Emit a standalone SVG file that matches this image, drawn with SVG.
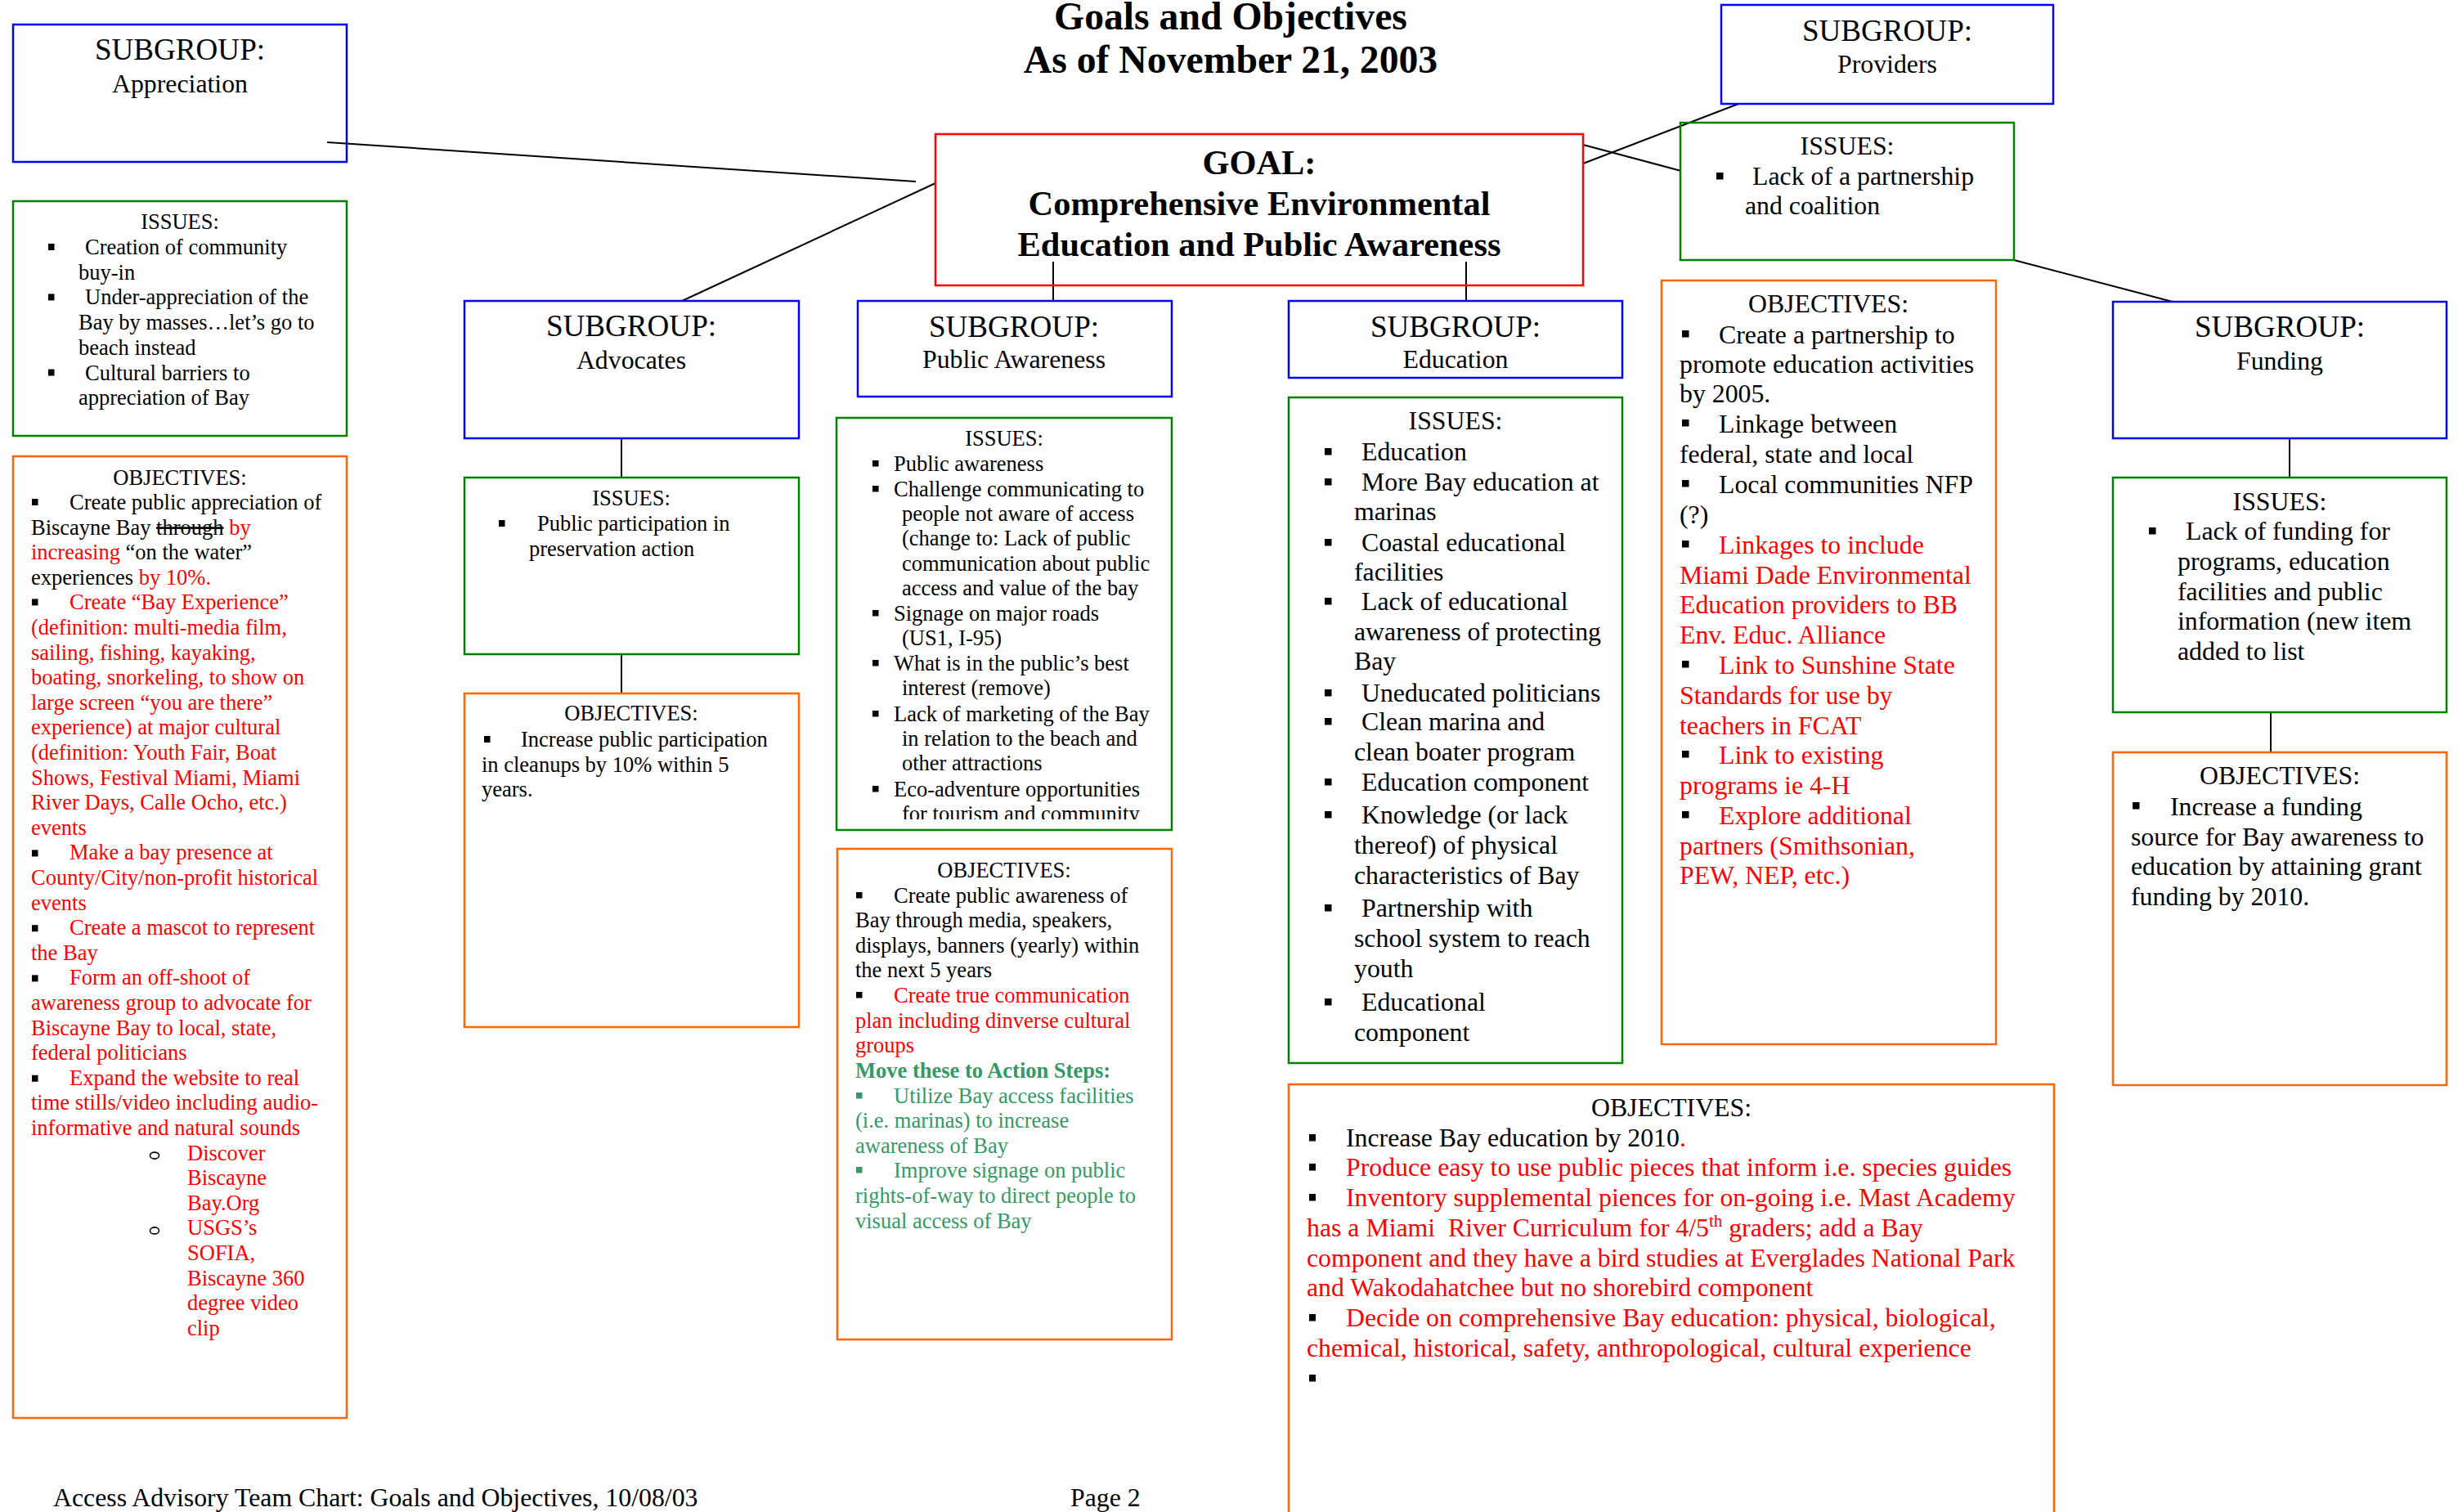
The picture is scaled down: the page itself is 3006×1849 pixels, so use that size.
<svg xmlns="http://www.w3.org/2000/svg" width="3006" height="1849" viewBox="0 0 3006 1849">
<style>
text { font-family: "Liberation Serif", "Times New Roman", serif; fill: #000; }
.t10 { font-size: 26.5px; }
.t12 { font-size: 31.8px; }
.t14 { font-size: 37.1px; }
.t16 { font-size: 42.4px; font-weight: bold; }
.t18 { font-size: 47.7px; font-weight: bold; }
.c { text-anchor: middle; }
.r { fill: #FF0000; }
.g { fill: #339966; }
.k { fill: #000; }
.bx { fill: none; stroke-width: 2.5; }
.blue { stroke: #0000FF; }
.green { stroke: #008000; }
.orange { stroke: #FF6600; }
.redb { stroke: #FF0000; }
.bul { fill: #000; }
.bulg { fill: #339966; }
.ob { fill: none; stroke: #000; stroke-width: 1.6; }
.con { stroke: #000; stroke-width: 2; fill: none; }
</style>
<defs>
<clipPath id="clipPA"><rect x="1020" y="505" width="420" height="497"/></clipPath>
</defs>
<rect x="0" y="0" width="3006" height="1849" fill="#fff"/>

<g id="title">
<text class="t18 c" x="1505" y="36">Goals and Objectives</text>
<text class="t18 c" x="1505" y="89">As of November 21, 2003</text>
</g>

<g id="connectors">
<line class="con" x1="400" y1="174" x2="1120" y2="222"/>
<line class="con" x1="834" y1="368" x2="1144" y2="224"/>
<line class="con" x1="1288" y1="320" x2="1288" y2="368"/>
<line class="con" x1="1793" y1="320" x2="1793" y2="368"/>
<line class="con" x1="1936" y1="200" x2="2126" y2="127"/>
<line class="con" x1="1936" y1="177" x2="2056" y2="209"/>
<line class="con" x1="2463" y1="318" x2="2657" y2="369"/>
<line class="con" x1="760" y1="536" x2="760" y2="584"/>
<line class="con" x1="760" y1="800" x2="760" y2="848"/>
<line class="con" x1="2800" y1="536" x2="2800" y2="584"/>
<line class="con" x1="2777" y1="871" x2="2777" y2="920"/>
</g>

<g id="goal">
<rect class="bx redb" x="1144" y="164" width="792" height="185"/>
<text class="t16 c" x="1540" y="213">GOAL:</text>
<text class="t16 c" x="1540" y="263">Comprehensive Environmental</text>
<text class="t16 c" x="1540" y="313">Education and Public Awareness</text>
</g>

<!-- Appreciation -->
<g id="sub-appreciation">
<rect class="bx blue" x="16" y="30" width="408" height="168"/>
<text class="t14 c" x="220" y="73">SUBGROUP:</text>
<text class="t12 c" x="220" y="113">Appreciation</text>
</g>
<g id="issues-appreciation">
<rect class="bx green" x="16" y="246" width="408" height="287"/>
<text class="t10 c" x="220" y="280">ISSUES:</text>
<rect class="bul" x="59" y="298" width="7.5" height="8"/>
<rect class="bul" x="59" y="359.4" width="7.5" height="8"/>
<rect class="bul" x="59" y="451.5" width="7.5" height="8"/>
<text class="t10" x="104" y="311">Creation of community</text>
<text class="t10" x="96" y="341.7">buy-in</text>
<text class="t10" x="104" y="372.4">Under-appreciation of the</text>
<text class="t10" x="96" y="403.1">Bay by masses…let’s go to</text>
<text class="t10" x="96" y="433.8">beach instead</text>
<text class="t10" x="104" y="464.5">Cultural barriers to</text>
<text class="t10" x="96" y="495.2">appreciation of Bay</text>
</g>
<g id="objectives-appreciation">
<rect class="bx orange" x="16" y="558" width="408" height="1176"/>
<text class="t10 c" x="220" y="593">OBJECTIVES:</text>
<rect class="bul" x="39" y="610" width="7.5" height="8"/>
<rect class="bul" x="39" y="732.4" width="7.5" height="8"/>
<rect class="bul" x="39" y="1039.4" width="7.5" height="8"/>
<rect class="bul" x="39" y="1131.2" width="7.5" height="8"/>
<rect class="bul" x="39" y="1192.4" width="7.5" height="8"/>
<rect class="bul" x="39" y="1314.8" width="7.5" height="8"/>
<ellipse class="ob" cx="189" cy="1413.1" rx="5.5" ry="4"/>
<ellipse class="ob" cx="189" cy="1504.9" rx="5.5" ry="4"/>
<text class="t10" x="85" y="623">Create public appreciation of</text>
<text class="t10" x="38" y="653.6">Biscayne Bay <tspan text-decoration="line-through">through</tspan><tspan class="r"> by</tspan></text>
<text class="t10" x="38" y="684.2"><tspan class="r">increasing</tspan> “on the water”</text>
<text class="t10" x="38" y="714.8">experiences<tspan class="r"> by 10%.</tspan></text>
<g class="r">
<text class="t10 r" x="85" y="745.4">Create “Bay Experience”</text>
<text class="t10 r" x="38" y="776">(definition: multi-media film,</text>
<text class="t10 r" x="38" y="806.6">sailing, fishing, kayaking,</text>
<text class="t10 r" x="38" y="837.2">boating, snorkeling, to show on</text>
<text class="t10 r" x="38" y="867.8">large screen “you are there”</text>
<text class="t10 r" x="38" y="898.4">experience) at major cultural</text>
<text class="t10 r" x="38" y="929">(definition: Youth Fair, Boat</text>
<text class="t10 r" x="38" y="959.6">Shows, Festival Miami, Miami</text>
<text class="t10 r" x="38" y="990.2">River Days, Calle Ocho, etc.)</text>
<text class="t10 r" x="38" y="1020.8">events</text>
<text class="t10 r" x="85" y="1051.4">Make a bay presence at</text>
<text class="t10 r" x="38" y="1082">County/City/non-profit historical</text>
<text class="t10 r" x="38" y="1112.6">events</text>
<text class="t10 r" x="85" y="1143.2">Create a mascot to represent</text>
<text class="t10 r" x="38" y="1173.8">the Bay</text>
<text class="t10 r" x="85" y="1204.4">Form an off-shoot of</text>
<text class="t10 r" x="38" y="1235">awareness group to advocate for</text>
<text class="t10 r" x="38" y="1265.6">Biscayne Bay to local, state,</text>
<text class="t10 r" x="38" y="1296.2">federal politicians</text>
<text class="t10 r" x="85" y="1326.8">Expand the website to real</text>
<text class="t10 r" x="38" y="1357.4">time stills/video including audio-</text>
<text class="t10 r" x="38" y="1388">informative and natural sounds</text>
<text class="t10 r" x="229" y="1418.6">Discover</text>
<text class="t10 r" x="229" y="1449.2">Biscayne</text>
<text class="t10 r" x="229" y="1479.8">Bay.Org</text>
<text class="t10 r" x="229" y="1510.4">USGS’s</text>
<text class="t10 r" x="229" y="1541">SOFIA,</text>
<text class="t10 r" x="229" y="1571.6">Biscayne 360</text>
<text class="t10 r" x="229" y="1602.2">degree video</text>
<text class="t10 r" x="229" y="1632.8">clip</text>
</g>
</g>

<!-- Advocates -->
<g id="sub-advocates">
<rect class="bx blue" x="568" y="368" width="409" height="168"/>
<text class="t14 c" x="772" y="411">SUBGROUP:</text>
<text class="t12 c" x="772" y="451">Advocates</text>
</g>
<g id="issues-advocates">
<rect class="bx green" x="568" y="584" width="409" height="216"/>
<text class="t10 c" x="772" y="618">ISSUES:</text>
<rect class="bul" x="610" y="636" width="7.5" height="8"/>
<text class="t10" x="657" y="649">Public participation in</text>
<text class="t10" x="647" y="680">preservation action</text>
</g>
<g id="objectives-advocates">
<rect class="bx orange" x="568" y="848" width="409" height="408"/>
<text class="t10 c" x="772" y="881">OBJECTIVES:</text>
<rect class="bul" x="592" y="900" width="7.5" height="8"/>
<text class="t10" x="637" y="913">Increase public participation</text>
<text class="t10" x="589" y="944">in cleanups by 10% within 5</text>
<text class="t10" x="589" y="974">years.</text>
</g>

<!-- Public Awareness -->
<g id="sub-public-awareness">
<rect class="bx blue" x="1049" y="368" width="384" height="117"/>
<text class="t14 c" x="1240" y="412">SUBGROUP:</text>
<text class="t12 c" x="1240" y="450">Public Awareness</text>
</g>
<g id="issues-public-awareness">
<rect class="bx green" x="1023" y="511" width="410" height="504"/>
<text class="t10 c" x="1228" y="545">ISSUES:</text>
<rect class="bul" x="1067" y="563" width="7.5" height="7.5"/>
<rect class="bul" x="1067" y="594" width="7.5" height="7.5"/>
<rect class="bul" x="1067" y="746" width="7.5" height="7.5"/>
<rect class="bul" x="1067" y="807" width="7.5" height="7.5"/>
<rect class="bul" x="1067" y="869" width="7.5" height="7.5"/>
<rect class="bul" x="1067" y="961" width="7.5" height="7.5"/>
<text class="t10" x="1093" y="576">Public awareness</text>
<text class="t10" x="1093" y="607">Challenge communicating to</text>
<text class="t10" x="1103" y="637">people not aware of access</text>
<text class="t10" x="1103" y="667">(change to: Lack of public</text>
<text class="t10" x="1103" y="698">communication about public</text>
<text class="t10" x="1103" y="728">access and value of the bay</text>
<text class="t10" x="1093" y="759">Signage on major roads</text>
<text class="t10" x="1103" y="789">(US1, I-95)</text>
<text class="t10" x="1093" y="820">What is in the public’s best</text>
<text class="t10" x="1103" y="850">interest (remove)</text>
<text class="t10" x="1093" y="882">Lack of marketing of the Bay</text>
<text class="t10" x="1103" y="912">in relation to the beach and</text>
<text class="t10" x="1103" y="942">other attractions</text>
<text class="t10" x="1093" y="974">Eco-adventure opportunities</text>
<text class="t10" x="1103" y="1004" clip-path="url(#clipPA)">for tourism and community</text>
</g>
<g id="objectives-public-awareness">
<rect class="bx orange" x="1024" y="1038" width="409" height="600"/>
<text class="t10 c" x="1228" y="1073">OBJECTIVES:</text>
<rect class="bul" x="1047" y="1091" width="7.5" height="7.5"/>
<rect class="bul" x="1047" y="1213" width="7.5" height="7.5"/>
<rect class="bulg" x="1047" y="1336" width="7.5" height="7.5"/>
<rect class="bulg" x="1047" y="1427" width="7.5" height="7.5"/>
<text class="t10" x="1093" y="1104">Create public awareness of</text>
<text class="t10" x="1046" y="1134">Bay through media, speakers,</text>
<text class="t10" x="1046" y="1165">displays, banners (yearly) within</text>
<text class="t10" x="1046" y="1195">the next 5 years</text>
<text class="t10 r" x="1093" y="1226">Create true communication</text>
<text class="t10 r" x="1046" y="1257">plan including dinverse cultural</text>
<text class="t10 r" x="1046" y="1287">groups</text>
<text class="t10 g" x="1046" y="1318" font-weight="bold">Move these to Action Steps:</text>
<text class="t10 g" x="1093" y="1349">Utilize Bay access facilities</text>
<text class="t10 g" x="1046" y="1379">(i.e. marinas) to increase</text>
<text class="t10 g" x="1046" y="1410">awareness of Bay</text>
<text class="t10 g" x="1093" y="1440">Improve signage on public</text>
<text class="t10 g" x="1046" y="1471">rights-of-way to direct people to</text>
<text class="t10 g" x="1046" y="1502">visual access of Bay</text>
</g>

<!-- Education -->
<g id="sub-education">
<rect class="bx blue" x="1576" y="368" width="408" height="94"/>
<text class="t14 c" x="1780" y="412">SUBGROUP:</text>
<text class="t12 c" x="1780" y="450">Education</text>
</g>
<g id="issues-education">
<rect class="bx green" x="1576" y="486" width="408" height="814"/>
<text class="t12 c" x="1780" y="525">ISSUES:</text>
<rect class="bul" x="1620" y="548" width="8.5" height="8.5"/>
<rect class="bul" x="1620" y="585" width="8.5" height="8.5"/>
<rect class="bul" x="1620" y="659" width="8.5" height="8.5"/>
<rect class="bul" x="1620" y="731" width="8.5" height="8.5"/>
<rect class="bul" x="1620" y="843" width="8.5" height="8.5"/>
<rect class="bul" x="1620" y="878" width="8.5" height="8.5"/>
<rect class="bul" x="1620" y="952" width="8.5" height="8.5"/>
<rect class="bul" x="1620" y="992" width="8.5" height="8.5"/>
<rect class="bul" x="1620" y="1106" width="8.5" height="8.5"/>
<rect class="bul" x="1620" y="1221" width="8.5" height="8.5"/>
<text class="t12" x="1665" y="563">Education</text>
<text class="t12" x="1665" y="600">More Bay education at</text>
<text class="t12" x="1656" y="636">marinas</text>
<text class="t12" x="1665" y="674">Coastal educational</text>
<text class="t12" x="1656" y="710">facilities</text>
<text class="t12" x="1665" y="746">Lack of educational</text>
<text class="t12" x="1656" y="783">awareness of protecting</text>
<text class="t12" x="1656" y="819">Bay</text>
<text class="t12" x="1665" y="858">Uneducated politicians</text>
<text class="t12" x="1665" y="893">Clean marina and</text>
<text class="t12" x="1656" y="930">clean boater program</text>
<text class="t12" x="1665" y="967">Education component</text>
<text class="t12" x="1665" y="1007">Knowledge (or lack</text>
<text class="t12" x="1656" y="1044">thereof) of physical</text>
<text class="t12" x="1656" y="1081">characteristics of Bay</text>
<text class="t12" x="1665" y="1121">Partnership with</text>
<text class="t12" x="1656" y="1158">school system to reach</text>
<text class="t12" x="1656" y="1195">youth</text>
<text class="t12" x="1665" y="1236">Educational</text>
<text class="t12" x="1656" y="1273">component</text>
</g>
<g id="objectives-education">
<rect class="bx orange" x="1576" y="1326" width="936" height="560"/>
<text class="t12 c" x="2044" y="1365">OBJECTIVES:</text>
<rect class="bul" x="1601" y="1387" width="8" height="8.5"/>
<rect class="bul" x="1601" y="1423" width="8" height="8.5"/>
<rect class="bul" x="1601" y="1460" width="8" height="8.5"/>
<rect class="bul" x="1601" y="1607" width="8" height="8.5"/>
<rect class="bul" x="1601" y="1681" width="8" height="8.5"/>
<text class="t12" x="1646" y="1402">Increase Bay education by 2010<tspan class="r">.</tspan></text>
<text class="t12 r" x="1646" y="1438">Produce easy to use public pieces that inform i.e. species guides</text>
<text class="t12 r" x="1646" y="1475">Inventory supplemental piences for on-going i.e. Mast Academy</text>
<text class="t12 r" x="1598" y="1512" xml:space="preserve">has a Miami  River Curriculum for 4/5<tspan font-size="21px" dy="-12">th</tspan><tspan dy="12"> graders; add a Bay</tspan></text>
<text class="t12 r" x="1598" y="1549">component and they have a bird studies at Everglades National Park</text>
<text class="t12 r" x="1598" y="1585">and Wakodahatchee but no shorebird component</text>
<text class="t12 r" x="1646" y="1622">Decide on comprehensive Bay education: physical, biological,</text>
<text class="t12 r" x="1598" y="1659">chemical, historical, safety, anthropological, cultural experience</text>
</g>

<!-- Providers -->
<g id="sub-providers">
<rect class="bx blue" x="2105" y="6" width="406" height="121"/>
<text class="t14 c" x="2308" y="50">SUBGROUP:</text>
<text class="t12 c" x="2308" y="89">Providers</text>
</g>
<g id="issues-providers">
<rect class="bx green" x="2055" y="150" width="408" height="168"/>
<text class="t12 c" x="2259" y="189">ISSUES:</text>
<rect class="bul" x="2099" y="211" width="8.5" height="8.5"/>
<text class="t12" x="2143" y="226">Lack of a partnership</text>
<text class="t12" x="2134" y="262">and coalition</text>
</g>
<g id="objectives-providers">
<rect class="bx orange" x="2032" y="343" width="409" height="934"/>
<text class="t12 c" x="2236" y="382">OBJECTIVES:</text>
<rect class="bul" x="2057" y="404" width="8.5" height="8.5"/>
<rect class="bul" x="2057" y="513" width="8.5" height="8.5"/>
<rect class="bul" x="2057" y="587" width="8.5" height="8.5"/>
<rect class="bul" x="2057" y="661" width="8.5" height="8.5"/>
<rect class="bul" x="2057" y="808" width="8.5" height="8.5"/>
<rect class="bul" x="2057" y="918" width="8.5" height="8.5"/>
<rect class="bul" x="2057" y="992" width="8.5" height="8.5"/>
<text class="t12" x="2102" y="420">Create a partnership to</text>
<text class="t12" x="2054" y="456">promote education activities</text>
<text class="t12" x="2054" y="492">by 2005.</text>
<text class="t12" x="2102" y="529">Linkage between</text>
<text class="t12" x="2054" y="566">federal, state and local</text>
<text class="t12" x="2102" y="603">Local communities NFP</text>
<text class="t12" x="2054" y="640">(?)</text>
<text class="t12 r" x="2102" y="677">Linkages to include</text>
<text class="t12 r" x="2054" y="714">Miami Dade Environmental</text>
<text class="t12 r" x="2054" y="750">Education providers to BB</text>
<text class="t12 r" x="2054" y="787">Env. Educ. Alliance</text>
<text class="t12 r" x="2102" y="824">Link to Sunshine State</text>
<text class="t12 r" x="2054" y="861">Standards for use by</text>
<text class="t12 r" x="2054" y="898">teachers in FCAT</text>
<text class="t12 r" x="2102" y="934">Link to existing</text>
<text class="t12 r" x="2054" y="971">programs ie 4-H</text>
<text class="t12 r" x="2102" y="1008">Explore additional</text>
<text class="t12 r" x="2054" y="1045">partners (Smithsonian,</text>
<text class="t12 r" x="2054" y="1081">PEW, NEP, etc.)</text>
</g>

<!-- Funding -->
<g id="sub-funding">
<rect class="bx blue" x="2584" y="369" width="408" height="167"/>
<text class="t14 c" x="2788" y="412">SUBGROUP:</text>
<text class="t12 c" x="2788" y="452">Funding</text>
</g>
<g id="issues-funding">
<rect class="bx green" x="2584" y="584" width="408" height="287"/>
<text class="t12 c" x="2788" y="624">ISSUES:</text>
<rect class="bul" x="2628" y="645" width="8.5" height="8.5"/>
<text class="t12" x="2673" y="660">Lack of funding for</text>
<text class="t12" x="2663" y="697">programs, education</text>
<text class="t12" x="2663" y="734">facilities and public</text>
<text class="t12" x="2663" y="770">information (new item</text>
<text class="t12" x="2663" y="807">added to list</text>
</g>
<g id="objectives-funding">
<rect class="bx orange" x="2584" y="920" width="408" height="407"/>
<text class="t12 c" x="2788" y="959">OBJECTIVES:</text>
<rect class="bul" x="2608" y="981" width="8.5" height="8.5"/>
<text class="t12" x="2654" y="997">Increase a funding</text>
<text class="t12" x="2606" y="1034">source for Bay awareness to</text>
<text class="t12" x="2606" y="1070">education by attaining grant</text>
<text class="t12" x="2606" y="1107">funding by 2010.</text>
</g>

<g id="footer">
<text class="t12" x="65" y="1842">Access Advisory Team Chart: Goals and Objectives, 10/08/03</text>
<text class="t12" x="1309" y="1842">Page 2</text>
</g>
</svg>
